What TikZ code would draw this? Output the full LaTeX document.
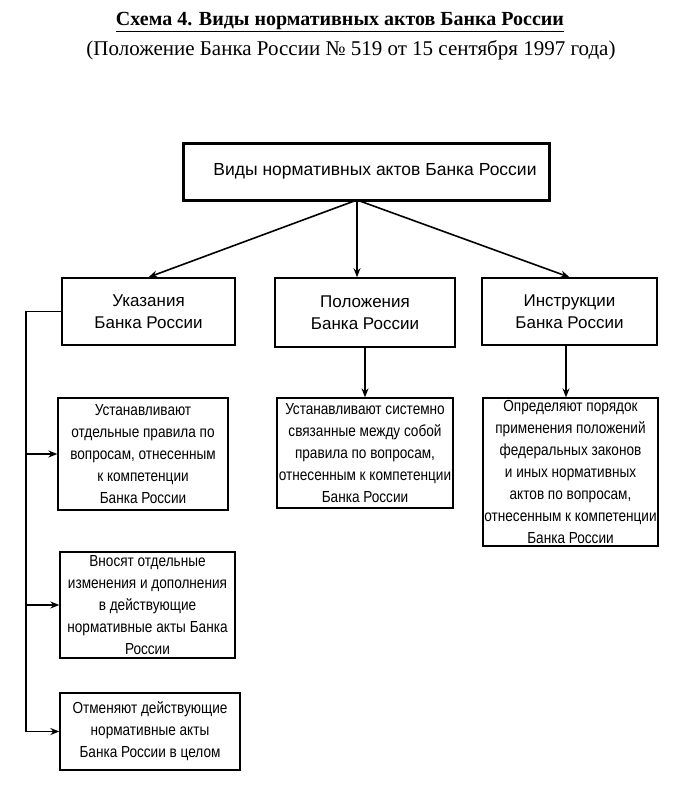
\documentclass[tikz,border=0pt]{standalone}
\usepackage{fontspec}
\setmainfont{Liberation Serif}
\newfontfamily\boxfont{Liberation Sans}
\newfontfamily\narrowfont[FakeStretch=0.85]{Liberation Sans}
\usetikzlibrary{arrows.meta}
\tikzset{
  headbox/.style={draw, line width=1.6pt, align=center, inner sep=1pt,
    font=\boxfont\fontsize{17}{22}\selectfont},
  textbox/.style={draw, line width=1.3pt, align=center, inner sep=1pt,
    font=\narrowfont\fontsize{16}{22}\selectfont},
  link/.style={line width=1.6pt, -{Stealth[length=9pt,width=7pt]}}
}
\begin{document}
\begin{tikzpicture}[x=1pt,y=1pt]
\useasboundingbox[fill=white] (0,0) rectangle (691,-787);
% title
\node (title) at (340,-22) {\fontsize{20}{24}\selectfont\bfseries\underline{Схема 4. Виды нормативных актов Банка России}};
\node (source) at (351,-50) {\fontsize{21}{24}\selectfont (Положение Банка России № 519 от 15 сентября 1997 года)};
% boxes
\node[headbox, line width=3pt, minimum width=366pt, minimum height=57pt, font=\boxfont\fontsize{17.5}{22}\selectfont] (kinds) at (366,-171.5) {\hspace*{18pt}Виды нормативных актов Банка России};
\node[headbox, minimum width=173pt, minimum height=67pt] (ukaz) at (148.5,-311.5) {Указания\\Банка России};
\node[headbox, minimum width=180pt, minimum height=69pt] (polozh) at (365,-312.5) {Положения\\Банка России};
\node[headbox, minimum width=175pt, minimum height=67pt] (instr) at (569.5,-311.5) {Инструкции\\Банка России};
\node[textbox, minimum width=170pt, minimum height=112pt] (ukazA) at (143,-454) {Устанавливают\\отдельные правила по\\вопросам, отнесенным\\к компетенции\\Банка России};
\node[textbox, minimum width=175pt, minimum height=106pt] (ukazB) at (147.5,-605) {Вносят отдельные\\изменения и дополнения\\в действующие\\нормативные акты Банка\\России};
\node[textbox, minimum width=180pt, minimum height=77pt] (ukazC) at (150,-731.5) {Отменяют действующие\\нормативные акты\\Банка России в целом};
\node[textbox, minimum width=176pt, minimum height=110pt] (polozhA) at (365,-453) {Устанавливают системно\\связанные между собой\\правила по вопросам,\\отнесенным к компетенции\\Банка России};
\node[textbox, minimum width=175pt, minimum height=148pt] (instrA) at (570.5,-472) {Определяют порядок\\применения положений\\федеральных законов\\и иных нормативных\\актов по вопросам,\\отнесенным к компетенции\\Банка России};
% arrows from the top box
\coordinate (fork) at (357,-200);
\draw[link] (fork) -- (ukaz.north);
\draw[link] (fork) -- (fork |- polozh.north);
\draw[link] (fork) -- (instr.north);
\draw[link] (polozh.south) -- (polozhA.north);
\coordinate (drop) at (566,-345);
\draw[link] (drop |- instr.south) -- (drop |- instrA.north);
% left rail
\coordinate (rail) at (26,-311.5);
\draw[line width=1.6pt] (ukaz.west) -- (rail) -- (rail |- ukazC.west);
\draw[link] (rail |- ukazA.west) -- (ukazA.west);
\draw[link] (rail |- ukazB.west) -- (ukazB.west);
\draw[link] (rail |- ukazC.west) -- (ukazC.west);
\end{tikzpicture}
\end{document}
